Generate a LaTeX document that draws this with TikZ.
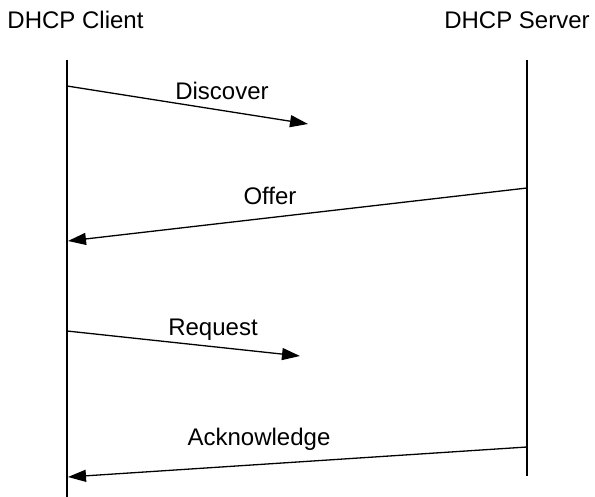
\documentclass[tikz,border=0pt]{standalone}
\usepackage{fontspec}
\setmainfont{Liberation Sans}
\usetikzlibrary{arrows.meta}

\begin{document}
\begin{tikzpicture}[x=1pt, y=-1pt,
    lifeline/.style={black, line width=1.3pt},
    msg/.style={black, line width=1.3pt, -{Triangle[length=18pt,width=12pt]}},
    lbl/.style={font=\fontsize{24}{28}\selectfont, inner sep=0pt, anchor=base}]
  \useasboundingbox (0,0) rectangle (595,497);
  % the two ends
  \node [lbl] (client) at (75.5, 28.5) {DHCP Client};
  \node [lbl] (server) at (517, 28.5) {DHCP Server};
  \coordinate (cTop) at (67, 60);
  \coordinate (cBot) at (67, 497);
  \coordinate (sTop) at (527, 60);
  \coordinate (sBot) at (527, 476);
  \draw [lifeline] (cTop) -- (cBot);
  \draw [lifeline] (sTop) -- (sBot);
  % messages
  \coordinate (d1) at (67, 86);   \coordinate (d2) at (308, 124);
  \coordinate (o1) at (527, 188); \coordinate (o2) at (68, 241);
  \coordinate (r1) at (67, 331);  \coordinate (r2) at (300, 356);
  \coordinate (a1) at (527, 447); \coordinate (a2) at (68, 477);
  \draw [msg] (d1) -- (d2);
  \draw [msg] (o1) -- (o2);
  \draw [msg] (r1) -- (r2);
  \draw [msg] (a1) -- (a2);
  \node [lbl] (discover) at (222, 100) {Discover};
  \node [lbl] (offer) at (270, 205) {Offer};
  \node [lbl] (request) at (213, 336) {Request};
  \node [lbl] (ack) at (259, 445) {Acknowledge};
\end{tikzpicture}
\end{document}
